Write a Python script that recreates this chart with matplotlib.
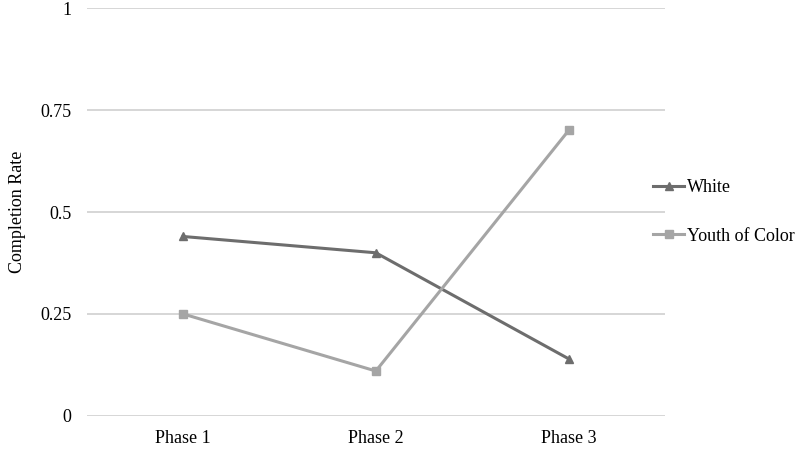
import matplotlib.pyplot as plt

phases = ["Phase 1", "Phase 2", "Phase 3"]
white = [0.44, 0.40, 0.14]
youth_of_color = [0.25, 0.11, 0.70]
yticks = [0, 0.25, 0.5, 0.75, 1]
ytick_labels = ["0", "0.25", "0.5", "0.75", "1"]

plt.rcParams["font.family"] = ["Liberation Serif", "DejaVu Serif"]

fig = plt.figure(figsize=(8.1, 4.54), dpi=100)
ax = fig.add_axes([0.107, 0.084, 0.714, 0.898])

x = range(len(phases))
ax.plot(x, white, color="#6d6d6d", lw=2.2, marker="^", ms=6, label="White")
ax.plot(x, youth_of_color, color="#a5a5a5", lw=2.2, marker="s", ms=5.5, label="Youth of Color")

ax.set_xlim(-0.5, 2.5)
ax.set_ylim(0, 1)
ax.set_yticks(yticks)
ax.set_yticklabels(ytick_labels)
ax.set_xticks(list(x))
ax.set_xticklabels(phases)
ax.grid(axis="y", color="#d0d0d0", lw=1.2)
ax.set_axisbelow(True)
for s in ax.spines.values():
    s.set_visible(False)
ax.tick_params(length=0, labelsize=13, colors="black")
ax.tick_params(axis="y", pad=11)
ax.tick_params(axis="x", pad=10)
ax.set_ylabel("Completion Rate", fontsize=13, labelpad=10)

ax.legend(loc="center left", bbox_to_anchor=(0.952, 0.50), frameon=False,
          fontsize=13, handlelength=1.7, handletextpad=0.15, labelspacing=1.75)

fig.savefig("out.png", dpi=100)
